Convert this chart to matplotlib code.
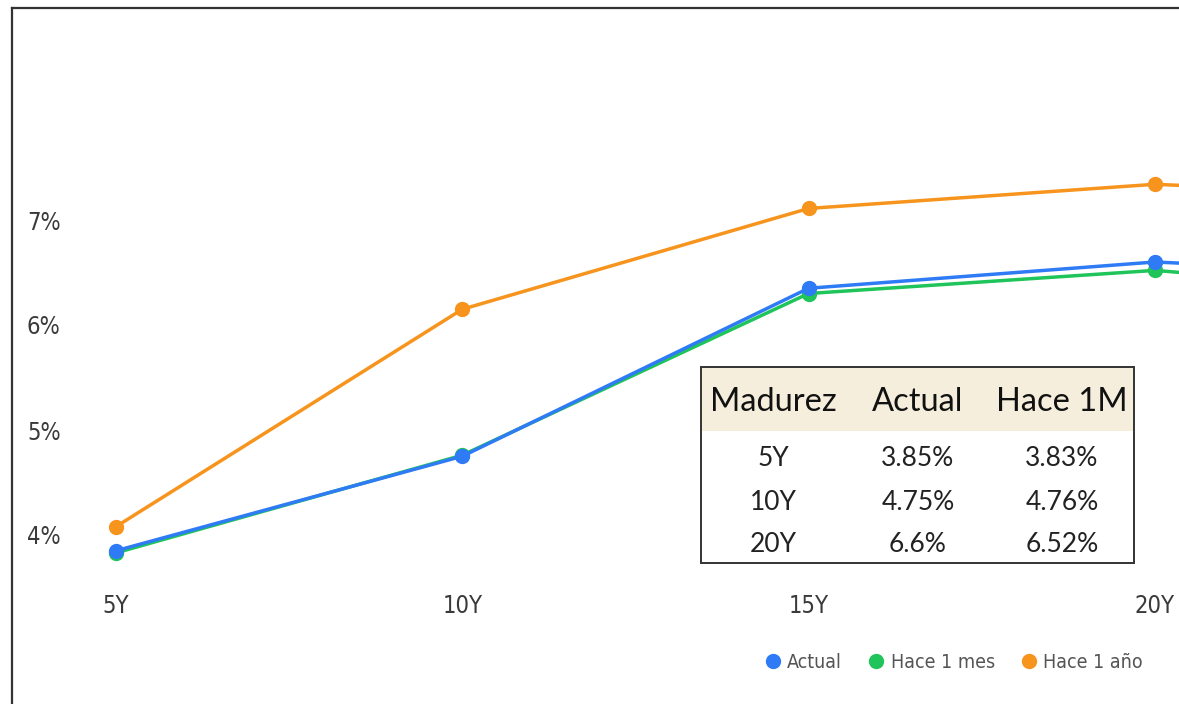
import numpy as np
import matplotlib
matplotlib.use('Agg')
import matplotlib.pyplot as plt
from matplotlib.lines import Line2D
from matplotlib.patches import Rectangle

# Curve data (yield in %)
plazos = ['5Y', '10Y', '15Y', '20Y', '30Y']
actual = [3.85, 4.75, 6.35, 6.60, 6.45]
hace_1_mes = [3.83, 4.76, 6.30, 6.52, 6.25]
hace_1_ano = [4.08, 6.15, 7.11, 7.34, 7.20]
y_ticks = [4, 5, 6, 7]

# Table data
tabla_cols = ['Madurez', 'Actual', 'Hace 1M']
tabla_madurez = ['5Y', '10Y', '20Y']
tabla_actual = ['3.85%', '4.75%', '6.6%']
tabla_1m = ['3.83%', '4.76%', '6.52%']

c_blue = '#2F7BF5'
c_green = '#1FC45A'
c_orange = '#F7941D'
tick_font = ['DejaVu Sans', 'Liberation Sans']
tab_font = ['Lato', 'DejaVu Sans']

W, H = 1179, 704
fig = plt.figure(figsize=(W / 100, H / 100), dpi=100)


def px_box(x0, y0, x1, y1):
    # pixel box (top-left origin) -> figure fraction rect
    return [x0 / W, 1 - y1 / H, (x1 - x0) / W, (y1 - y0) / H]


ax = fig.add_axes(px_box(80, 60, W, 570))
x = np.arange(len(plazos))
ax.plot(x, hace_1_mes, color=c_green, lw=2.5, marker='o', ms=10, zorder=2)
ax.plot(x, actual, color=c_blue, lw=2.5, marker='o', ms=10, zorder=3)
ax.plot(x, hace_1_ano, color=c_orange, lw=2.5, marker='o', ms=10, zorder=4)

ax.set_xticks(x[:4])
ax.set_xticklabels(plazos[:4])
ax.set_yticks(y_ticks)
ax.set_yticklabels(['{}%'.format(v) for v in y_ticks])
# limits last so that set_xticks does not widen them
ax.set_xlim((80 - 116) / 346.3, (W - 116) / 346.3)
ax.set_ylim(4 - 35 / 105, 4 + 475 / 105)
for sp in ax.spines.values():
    sp.set_visible(False)
ax.tick_params(length=0, colors='#3a3a3a', labelsize=17)
ax.tick_params(axis='y', pad=14)
ax.tick_params(axis='x', pad=17)
for lab in ax.get_xticklabels() + ax.get_yticklabels():
    lab.set_family(tick_font)
    lab.set_stretch('condensed')
ax.patch.set_alpha(0)

# Figure frame (left and top edges visible)
fig.add_artist(Line2D([12 / W, 12 / W], [0, 1 - 8 / H], transform=fig.transFigure,
                      color='#333333', lw=1.6))
fig.add_artist(Line2D([12 / W, 1], [1 - 8 / H, 1 - 8 / H], transform=fig.transFigure,
                      color='#333333', lw=1.6))

# Legend
handles = [Line2D([], [], ls='none', marker='o', ms=10, color=c)
           for c in (c_blue, c_green, c_orange)]
leg = fig.legend(handles, ['Actual', 'Hace 1 mes', 'Hace 1 año'], ncol=3,
                 loc='center', bbox_to_anchor=(953 / W, 1 - 662 / H), frameon=False,
                 handletextpad=0.25, columnspacing=1.25, handlelength=1.0,
                 prop={'family': tick_font, 'size': 14, 'stretch': 'condensed'})
for t in leg.get_texts():
    t.set_color('#555555')

# Table overlay
tab = fig.add_axes(px_box(701, 367, 1134, 563))
tab.set_xlim(0, 433)
tab.set_ylim(196, 0)
tab.axis('off')
tab.add_patch(Rectangle((0, 0), 433, 196, facecolor='white', edgecolor='none', zorder=0))
tab.add_patch(Rectangle((0, 0), 433, 64, facecolor='#F5EEDC', edgecolor='none', zorder=1))
tab.add_patch(Rectangle((0, 0), 433, 196, facecolor='none', edgecolor='#333333',
                        lw=1.4, zorder=3, clip_on=False))
col_x = [72, 217, 361]
for cx, name in zip(col_x, tabla_cols):
    tab.text(cx, 35, name, ha='center', va='center', fontsize=23.5,
             family=tab_font, color='#111111', zorder=2)
row_y = [91, 135, 178]
for ry, m, a, h in zip(row_y, tabla_madurez, tabla_actual, tabla_1m):
    for cx, val in zip(col_x, (m, a, h)):
        tab.text(cx, ry, val, ha='center', va='center', fontsize=19,
                 family=tab_font, color='#222222', zorder=2)

fig.savefig('out.png', dpi=100)
